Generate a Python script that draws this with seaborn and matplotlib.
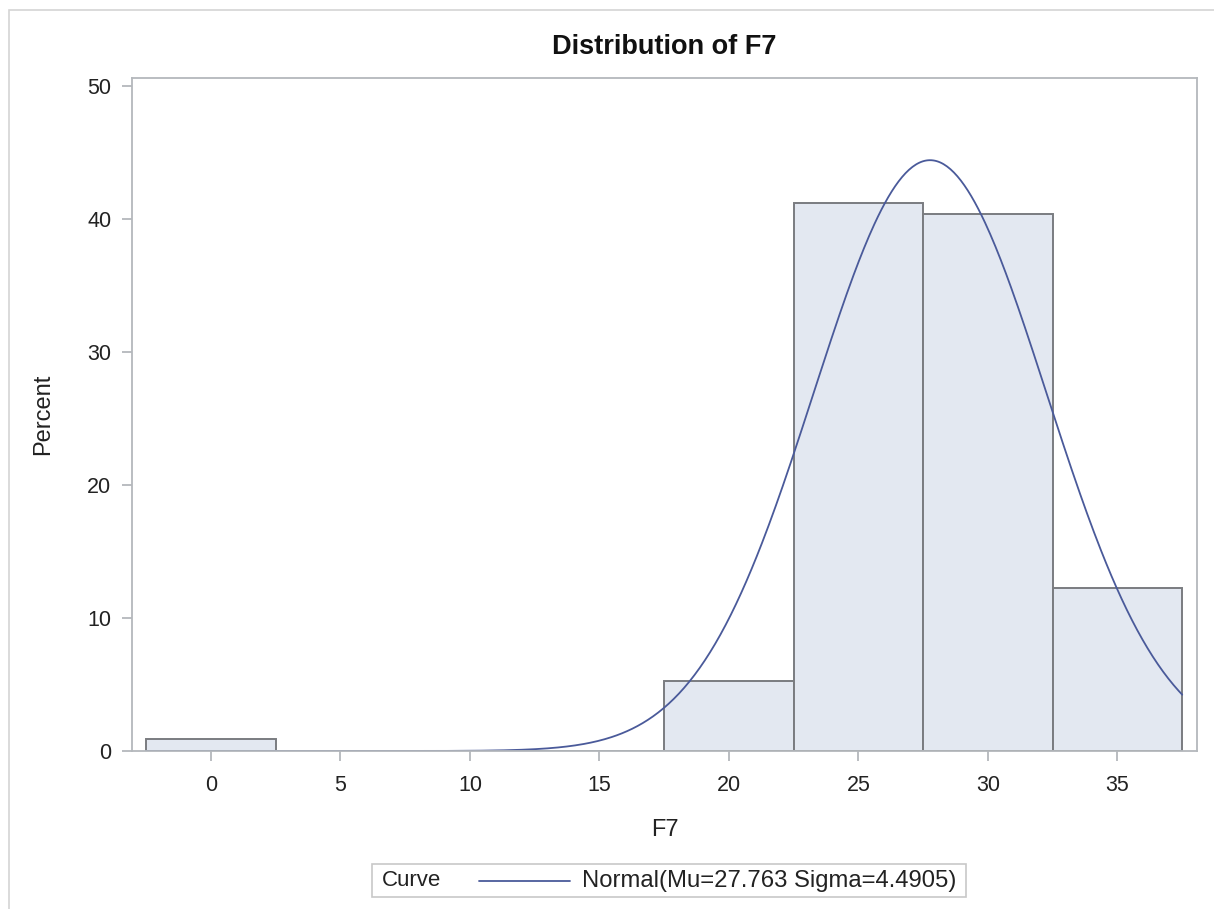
import numpy as np
import pandas as pd
import matplotlib
matplotlib.use("Agg")
import matplotlib.pyplot as plt
from matplotlib.patches import Rectangle
from matplotlib.lines import Line2D
import seaborn as sns

# Histogram bins (midpoints) and percent of observations in each bin
bin_mids = [0, 5, 10, 15, 20, 25, 30, 35]
percents = [0.88, 0.0, 0.0, 0.0, 5.26, 41.23, 40.35, 12.28]
bin_width = 5

# Fitted normal parameters
mu = 27.763
sigma = 4.4905

x_ticks = [0, 5, 10, 15, 20, 25, 30, 35]
y_ticks = [0, 10, 20, 30, 40, 50]

sns.set_theme(style="white")
plt.rcParams["font.family"] = ["Liberation Sans", "DejaVu Sans"]

W, H = 1214, 909
fig = plt.figure(figsize=(W / 100, H / 100), dpi=100)
ax = fig.add_axes([132 / W, 1 - 751 / H, (1197 - 132) / W, (751 - 78) / H])

frame_col = "#b4b8bc"
bar_face = "#e3e8f1"
bar_edge = "#7a7c80"
curve_col = "#4a5a9a"
text_col = "#222222"

df = pd.DataFrame({"F7": bin_mids, "pct": percents})
lo = bin_mids[0] - bin_width / 2
hi = bin_mids[-1] + bin_width / 2
sns.histplot(data=df, x="F7", weights="pct", binwidth=bin_width, binrange=(lo, hi),
             stat="count", color=bar_face, edgecolor=bar_edge, linewidth=1.4,
             alpha=1.0, ax=ax)

xs = np.linspace(lo, hi, 600)
ys = 100 * bin_width * np.exp(-0.5 * ((xs - mu) / sigma) ** 2) / (sigma * np.sqrt(2 * np.pi))
sns.lineplot(x=xs, y=ys, color=curve_col, linewidth=1.3, ax=ax)

ax.set_xlim(-3.05, 38.07)
ax.set_ylim(0, 50.6)
ax.set_xticks(x_ticks)
ax.set_yticks(y_ticks)
ax.tick_params(axis="both", direction="out", length=7, width=1.3, color=frame_col,
               labelsize=15.5, labelcolor=text_col, left=True, bottom=True)
ax.tick_params(axis="x", pad=10)
ax.tick_params(axis="y", pad=8)
for s in ax.spines.values():
    s.set_color(frame_col)
    s.set_linewidth(1.3)

ax.set_xlabel("F7", fontsize=17, color=text_col, labelpad=16.5)
ax.set_ylabel("Percent", fontsize=17, color=text_col, labelpad=23.5)
ax.set_title("Distribution of F7", fontsize=19.5, fontweight="bold", color="#111111", pad=17)

# Outer border around the graph (only top and left edges fall inside the image)
fig.patches.append(Rectangle((9 / W, -0.05), 1.2, 1 - 10 / H + 0.05,
                             transform=fig.transFigure, fill=False,
                             edgecolor="#d4d4d4", linewidth=1.2, clip_on=False))

# Legend box
lx0, lx1, ly0, ly1 = 372, 966, 864, 897
fig.patches.append(Rectangle((lx0 / W, 1 - ly1 / H), (lx1 - lx0) / W, (ly1 - ly0) / H,
                             transform=fig.transFigure, fill=False,
                             edgecolor="#c8c8c8", linewidth=1.2))
ymid = 1 - 880.5 / H
fig.text(382 / W, ymid, "Curve", fontsize=16, color=text_col, va="center", ha="left")
fig.lines.append(Line2D([479 / W, 570 / W], [ymid, ymid], transform=fig.transFigure,
                        color=curve_col, linewidth=1.3))
fig.text(582 / W, ymid, f"Normal(Mu={mu} Sigma={sigma})", fontsize=17.2,
         color=text_col, va="center", ha="left")

fig.savefig("out.png", dpi=100)
